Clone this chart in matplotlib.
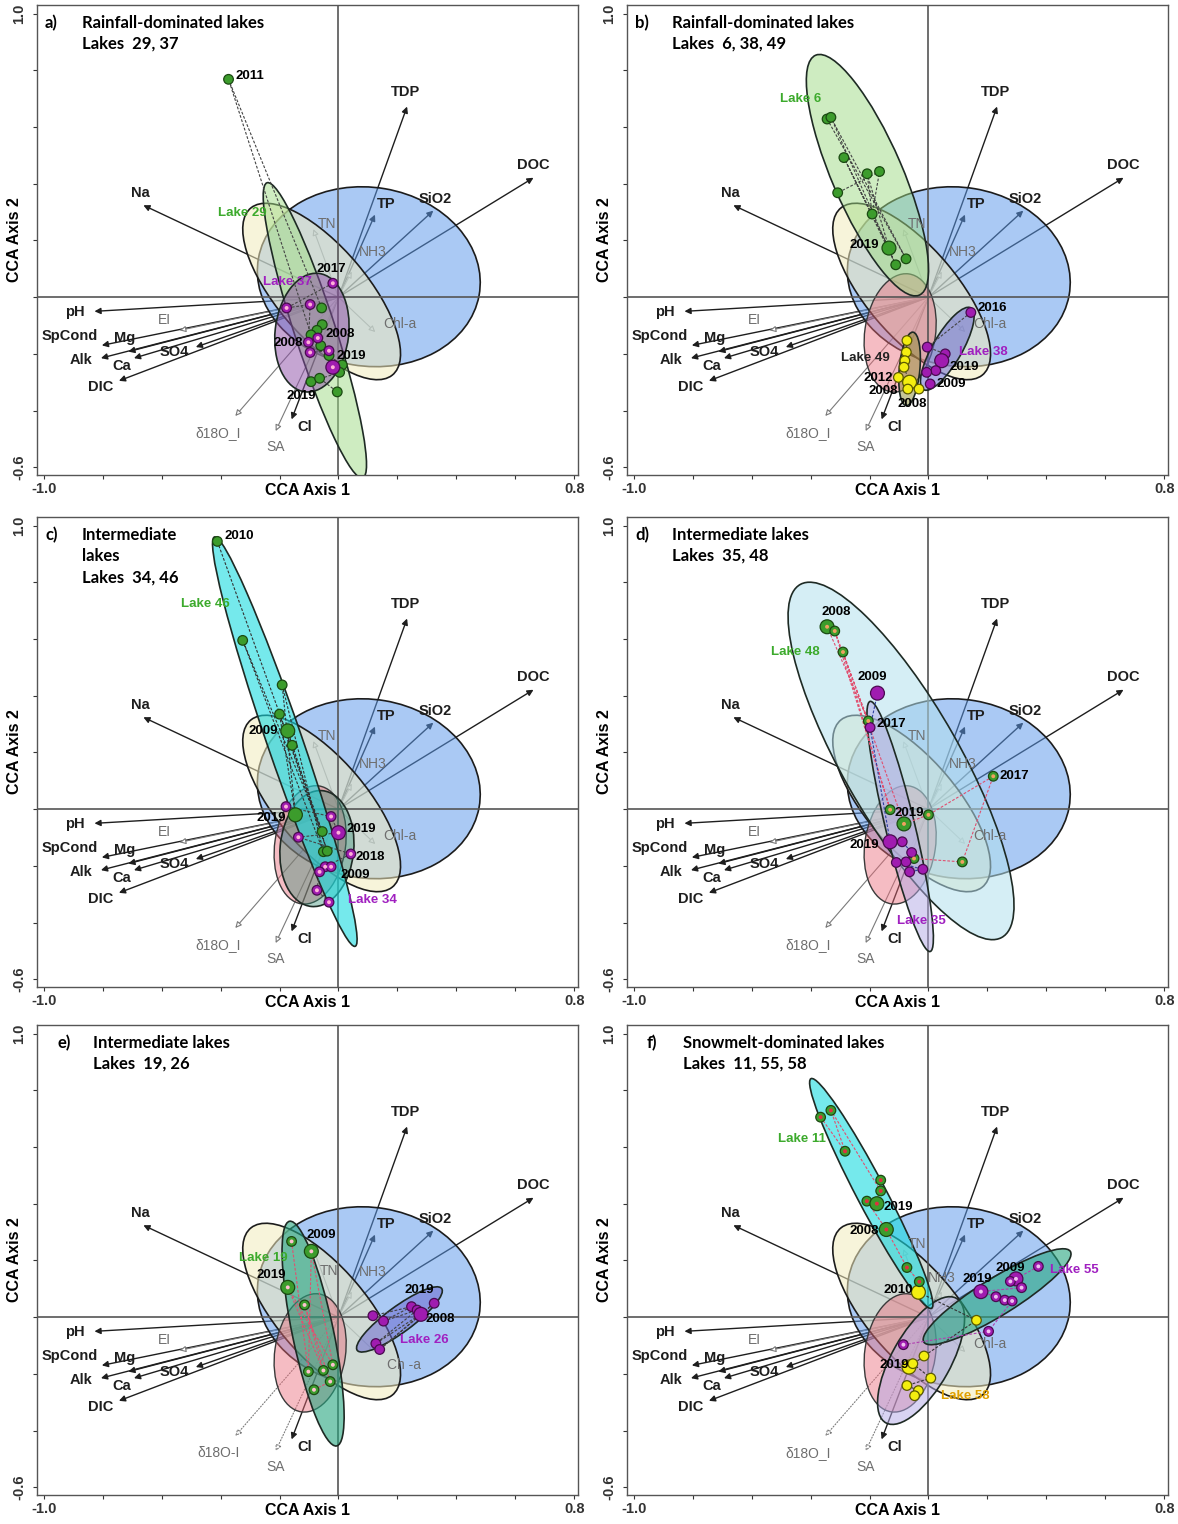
import numpy as np
import matplotlib.pyplot as plt
from matplotlib.patches import Ellipse

plt.rcParams['font.family'] = ['Liberation Sans', 'DejaVu Sans']

# ---- environmental arrows (biplot scores, identical in every panel)
env_names = ['pH', 'SpCond', 'Mg', 'Alk', 'Ca', 'SO4', 'DIC', 'Na', 'TDP', 'TP', 'SiO2', 'DOC', 'Cl']
env_x = [-0.828, -0.803, -0.713, -0.806, -0.694, -0.484, -0.745, -0.662, 0.233, 0.124, 0.322, 0.662, -0.159]
env_y = [-0.050, -0.170, -0.192, -0.215, -0.215, -0.176, -0.295, 0.324, 0.672, 0.291, 0.305, 0.421, -0.431]

sup_names = ['EI', 'δ18O_I', 'SA', 'TN', 'NH3', 'Chl-a']
sup_x = [-0.539, -0.350, -0.213, -0.085, 0.045, 0.125]
sup_y = [-0.117, -0.419, -0.472, 0.240, 0.090, -0.123]

# ---- lake sample scores per panel
# a) lakes 29, 37
lake29_x = [-0.373, -0.057, -0.055, -0.073, -0.093, -0.060, -0.032, 0.013, 0.004, -0.093, -0.064, -0.004]
lake29_y = [0.768, -0.038, -0.097, -0.117, -0.133, -0.171, -0.206, -0.239, -0.265, -0.298, -0.286, -0.334]
lake37_x = [-0.019, -0.176, -0.096, -0.102, -0.096, -0.032, -0.019, -0.070]
lake37_y = [0.049, -0.038, -0.026, -0.159, -0.195, -0.189, -0.247, -0.144]
# b) lakes 6, 38, 49
lake6_x = [-0.344, -0.331, -0.287, -0.208, -0.166, -0.308, -0.191, -0.134, -0.076, -0.111]
lake6_y = [0.628, 0.634, 0.492, 0.435, 0.443, 0.368, 0.293, 0.173, 0.135, 0.114]
lake38_x = [0.144, -0.004, 0.057, 0.045, 0.025, -0.006, 0.006]
lake38_y = [-0.054, -0.176, -0.200, -0.224, -0.259, -0.265, -0.306]
lake49_x = [-0.073, -0.075, -0.080, -0.083, -0.064, -0.102, -0.032, -0.070]
lake49_y = [-0.153, -0.194, -0.224, -0.247, -0.300, -0.283, -0.324, -0.324]
# c) lakes 34, 46
lake46_x = [-0.411, -0.325, -0.191, -0.200, -0.172, -0.157, -0.146, -0.055, -0.051, -0.038]
lake46_y = [0.944, 0.595, 0.438, 0.335, 0.276, 0.225, -0.020, -0.079, -0.150, -0.148]
lake34_x = [-0.178, -0.025, 0.000, -0.136, 0.042, -0.045, -0.025, -0.064, -0.073, -0.032]
lake34_y = [0.009, -0.026, -0.083, -0.099, -0.158, -0.203, -0.203, -0.221, -0.286, -0.328]
# d) lakes 35, 48
lake48_x = [-0.344, -0.318, -0.290, -0.204, -0.130, 0.000, -0.083, 0.115, 0.220, -0.049]
lake48_y = [0.643, 0.628, 0.554, 0.311, -0.002, -0.020, -0.052, -0.186, 0.116, -0.174]
lake35_x = [-0.173, -0.198, -0.130, -0.089, -0.057, -0.076, -0.064, -0.019, -0.109]
lake35_y = [0.409, 0.288, -0.115, -0.115, -0.153, -0.186, -0.221, -0.212, -0.188]
# e) lakes 19, 26
lake19_x = [-0.159, -0.092, -0.172, -0.115, -0.102, -0.019, -0.051, -0.028, -0.083]
lake19_y = [0.267, 0.232, 0.105, 0.043, -0.192, -0.168, -0.188, -0.227, -0.256]
lake26_x = [0.248, 0.267, 0.283, 0.325, 0.280, 0.117, 0.153, 0.127, 0.140]
lake26_y = [0.037, 0.025, 0.013, 0.049, 0.010, 0.005, -0.014, -0.093, -0.114]
# f) lakes 11, 55, 58
lake11_x = [-0.366, -0.331, -0.283, -0.162, -0.162, -0.209, -0.175, -0.143, -0.073, -0.031]
lake11_y = [0.705, 0.729, 0.585, 0.483, 0.445, 0.409, 0.400, 0.309, 0.175, 0.125]
lake55_x = [0.373, 0.297, 0.278, 0.316, 0.178, 0.229, 0.259, 0.284, 0.204, -0.085]
lake55_y = [0.179, 0.135, 0.126, 0.104, 0.090, 0.072, 0.060, 0.057, -0.050, -0.097]
lake58_x = [-0.034, 0.163, -0.015, -0.066, -0.053, 0.008, -0.073, -0.034, -0.047]
lake58_y = [0.088, -0.011, -0.137, -0.176, -0.164, -0.215, -0.241, -0.259, -0.277]

# ---- styling / layout
ARROW_LABEL_OFF = {
    'pH': (-0.066, -0.002), 'SpCond': (-0.110, 0.033), 'Mg': (-0.013, 0.048), 'Alk': (-0.066, -0.005),
    'Ca': (-0.041, -0.026), 'SO4': (-0.072, -0.016), 'DIC': (-0.063, -0.022), 'Na': (-0.009, 0.042),
    'TDP': (-0.004, 0.053), 'TP': (0.038, 0.036), 'SiO2': (0.005, 0.040), 'DOC': (0.0, 0.044),
    'Cl': (0.046, -0.026), 'EI': (-0.053, 0.035), 'δ18O_I': (-0.058, -0.061), 'SA': (0.0, -0.058),
    'TN': (0.047, 0.018), 'NH3': (0.070, 0.069), 'Chl-a': (0.085, 0.030),
}

PT = {'green': ('#3c9c2c', '#1b4a12'), 'purple': ('#a01cb0', '#4a0a50'), 'yellow': ('#f4ee10', '#5c5a00')}
FILL = {
    'lightgreen': (0.62, 0.86, 0.52, 0.5), 'purple': (0.55, 0.30, 0.65, 0.5),
    'cyan': (0.10, 0.86, 0.88, 0.6), 'darkteal': (0.20, 0.55, 0.45, 0.4),
    'paleblue': (0.70, 0.88, 0.93, 0.55), 'lavender': (0.70, 0.66, 0.90, 0.5),
    'teal': (0.15, 0.65, 0.50, 0.6), 'violet': (0.42, 0.42, 0.82, 0.55),
    'olive': (0.55, 0.55, 0.20, 0.5),
}

# lake tuple: x, y, point colour, ellipse (cx, cy, w, h, angle), fill,
#             trajectory order, big points, trajectory colour, inner dot colour
PANELS = [
    dict(tag='a)', title=['Rainfall-dominated lakes', 'Lakes  29, 37'], indent=False, red=False,
         label_off={},
         lakes=[(lake29_x, lake29_y, 'green', (-0.080, -0.117, 1.09, 0.14, -72.7), 'lightgreen',
                 [1, 0, 4, 2, 3, 5, 6, 7, 8, 9, 10, 11], [], '#444444', None),
                (lake37_x, lake37_y, 'purple', (-0.090, -0.125, 0.25, 0.42, -6), 'purple',
                 [0, 1, 2, 3, 4, 5, 6, 7], [6], '#444444', '#ffb0d8')],
         labels=[('2011', -0.299, 0.779, 'k'), ('Lake 29', -0.325, 0.297, '#3caa2c'),
                 ('Lake 37', -0.172, 0.054, '#a020c0'), ('2017', -0.025, 0.099, 'k'),
                 ('2008', 0.006, -0.129, 'k'), ('2008', -0.172, -0.161, 'k'),
                 ('2019', 0.045, -0.206, 'k'), ('2019', -0.127, -0.348, 'k')]),
    dict(tag='b)', title=['Rainfall-dominated lakes', 'Lakes  6, 38, 49'], indent=False, red=True,
         label_off={},
         lakes=[(lake6_x, lake6_y, 'green', (-0.207, 0.430, 0.916, 0.24, -67.5), 'lightgreen',
                 [0, 8, 1, 9, 2, 7, 3, 6, 4, 5], [7], '#444444', None),
                (lake49_x, lake49_y, 'yellow', (-0.064, -0.253, 0.07, 0.26, -5), 'olive',
                 [0, 1, 2, 3, 4, 5, 6, 7], [4], '#444444', None),
                (lake38_x, lake38_y, 'purple', (0.064, -0.182, 0.33, 0.10, 61), 'violet',
                 [0, 1, 2, 3, 4, 5, 6], [3], '#444444', None)],
         labels=[('Lake 6', -0.433, 0.699, '#3caa2c'), ('2019', -0.217, 0.185, 'k'),
                 ('2016', 0.217, -0.038, 'k'), ('Lake 38', 0.185, -0.192, '#a020c0'),
                 ('2019', 0.121, -0.247, 'k'), ('2009', 0.076, -0.306, 'k'),
                 ('Lake 49', -0.213, -0.215, '#222222'), ('2012', -0.172, -0.286, 'k'),
                 ('2008', -0.153, -0.330, 'k'), ('2008', -0.055, -0.378, 'k')]),
    dict(tag='c)', title=['Intermediate', 'lakes', 'Lakes  34, 46'], indent=False, red=True,
         label_off={},
         lakes=[(lake34_x, lake34_y, 'purple', (-0.073, -0.139, 0.25, 0.41, -5), 'darkteal',
                 [0, 1, 2, 3, 4, 5, 6, 7, 8, 9], [2], '#444444', '#ffb0d8'),
                (lake46_x, lake46_y, 'green', (-0.182, 0.238, 1.52, 0.12, -71.7), 'cyan',
                 [0, 7, 1, 8, 2, 6, 3, 9, 4, 5], [4, 6], '#333333', None)],
         labels=[('2010', -0.338, 0.962, 'k'), ('Lake 46', -0.452, 0.725, '#3caa2c'),
                 ('2009', -0.255, 0.276, 'k'), ('2019', -0.229, -0.030, 'k'),
                 ('2019', 0.076, -0.071, 'k'), ('2018', 0.108, -0.170, 'k'),
                 ('2009', 0.057, -0.233, 'k'), ('Lake 34', 0.115, -0.322, '#a020c0')]),
    dict(tag='d)', title=['Intermediate lakes', 'Lakes  35, 48'], indent=False, red=True,
         label_off={},
         lakes=[(lake48_x, lake48_y, 'green', (-0.093, 0.170, 1.42, 0.40, -61.3), 'paleblue',
                 [0, 3, 1, 4, 2, 6, 5, 8, 7, 9], [0, 6], '#e05070', '#f0a060'),
                (lake35_x, lake35_y, 'purple', (-0.096, -0.061, 0.905, 0.10, -77), 'lavender',
                 [0, 1, 2, 3, 4, 5, 6, 7, 8], [0, 2], '#3040a0', None)],
         labels=[('2008', -0.312, 0.696, 'k'), ('Lake 48', -0.452, 0.554, '#3caa2c'),
                 ('2009', -0.191, 0.465, 'k'), ('2017', -0.127, 0.299, 'k'),
                 ('2017', 0.293, 0.116, 'k'), ('2019', -0.064, -0.014, 'k'),
                 ('2019', -0.217, -0.127, 'k'), ('Lake 35', -0.025, -0.395, '#a020c0')]),
    dict(tag='e)', title=['Intermediate lakes', 'Lakes  19, 26'], indent=True, red=True,
         label_off={'TN': (0.053, -0.079), 'Chl-a': (0.098, -0.047)},
         lakes=[(lake19_x, lake19_y, 'green', (-0.086, -0.058, 0.808, 0.14, -78.6), 'teal',
                 [0, 4, 1, 5, 2, 6, 3, 7, 8], [1, 2], '#e05070', '#ffc0d0'),
                (lake26_x, lake26_y, 'purple', (0.207, -0.008, 0.36, 0.09, 37.4), 'violet',
                 [5, 0, 6, 1, 7, 2, 8, 3, 4], [4], '#444444', None)],
         labels=[('2009', -0.057, 0.289, 'k'), ('Lake 19', -0.254, 0.208, '#3caa2c'),
                 ('2019', -0.229, 0.147, 'k'), ('2019', 0.274, 0.096, 'k'),
                 ('2008', 0.344, -0.005, 'k'), ('Lake 26', 0.293, -0.082, '#a020c0')]),
    dict(tag='f)', title=['Snowmelt-dominated lakes', 'Lakes  11, 55, 58'], indent=True, red=True,
         label_off={'NH3': (0.0, 0.047)},
         lakes=[(lake58_x, lake58_y, 'yellow', (-0.025, -0.153, 0.50, 0.20, 61.7), 'lavender',
                 [0, 1, 2, 3, 4, 5, 6, 7, 8], [0, 3], '#333333', None),
                (lake55_x, lake55_y, 'purple', (0.233, 0.072, 0.591, 0.13, 32.8), 'teal',
                 [0, 1, 2, 3, 4, 5, 6, 7, 8, 9], [1, 4], '#b040b0', '#f0c0f0'),
                (lake11_x, lake11_y, 'green', (-0.194, 0.436, 0.907, 0.10, -63.2), 'cyan',
                 [0, 2, 1, 4, 3, 6, 5, 7, 8, 9], [6, 7], '#e05070', '#e03040')],
         labels=[('Lake 11', -0.429, 0.628, '#3caa2c'), ('2019', -0.102, 0.388, 'k'),
                 ('2008', -0.219, 0.303, 'k'), ('2010', -0.102, 0.096, 'k'),
                 ('2009', 0.278, 0.175, 'k'), ('2019', 0.166, 0.135, 'k'),
                 ('Lake 55', 0.494, 0.167, '#a020c0'), ('2019', -0.115, -0.170, 'k'),
                 ('Lake 58', 0.125, -0.277, '#e0a000')]),
]

BLUE_ELL = (0.103, 0.072, 0.76, 0.63, -10)
CREAM_ELL = (-0.057, 0.020, 0.76, 0.31, -51)
RED_ELL = (-0.096, -0.126, 0.24, 0.42, -8)

XLIM = (-1.023, 0.813)
YLIM = (-0.627, 1.03)
W, H = 1178, 1524
BOXES = [(37, 5), (627, 5), (37, 517), (627, 517), (37, 1025), (627, 1025)]
BW, BH = 541, 470


def ellipse(ax, p, fc, ec, lw, z):
    cx, cy, w, h, a = p
    ax.add_patch(Ellipse((cx, cy), w, h, angle=a, fc=fc, ec=ec, lw=lw, zorder=z))


def draw_panel(ax, panel, idx):
    ax.set_xlim(*XLIM)
    ax.set_ylim(*YLIM)
    offs = dict(ARROW_LABEL_OFF)
    offs.update(panel['label_off'])

    # arrows first, the group ellipses tint them
    for name, x, y in zip(env_names, env_x, env_y):
        ax.annotate('', xy=(x, y), xytext=(0, 0), zorder=0.8,
                    arrowprops=dict(arrowstyle='-|>', color='#1e1e1e', lw=1.0,
                                    mutation_scale=9, shrinkA=0, shrinkB=0))
        dx, dy = offs[name]
        ax.text(x + dx, y + dy, name, fontsize=10.5, fontweight='bold', color='#1e1e1e',
                ha='center', va='center', zorder=8)

    dotted = idx >= 4
    for name, x, y in zip(sup_names, sup_x, sup_y):
        ls = ':' if (dotted and name in ('δ18O_I', 'SA')) else '-'
        ax.annotate('', xy=(x, y), xytext=(0, 0), zorder=0.8,
                    arrowprops=dict(arrowstyle='-|>', fc='white', ec='#7a7a7a', lw=0.8, ls=ls,
                                    mutation_scale=9, shrinkA=0, shrinkB=0))
        dx, dy = offs[name]
        label = name
        if idx == 4 and name == 'δ18O_I':
            label = 'δ18O-I'
        if idx == 4 and name == 'Chl-a':
            label = 'Ch -a'
        ax.text(x + dx, y + dy, label, fontsize=10, color='#6e6e6e',
                ha='center', va='center', zorder=8)

    ellipse(ax, BLUE_ELL, (0.36, 0.60, 0.92, 0.52), '#1c1c1c', 1.2, 1)
    ellipse(ax, CREAM_ELL, (0.95, 0.92, 0.74, 0.55), '#1c1c1c', 1.2, 2)
    if panel['red']:
        ellipse(ax, RED_ELL, (0.92, 0.42, 0.48, 0.45), '#3a3a3a', 1.0, 3)

    ax.axhline(0, color='#555555', lw=1.2, zorder=3.5)
    ax.axvline(0, color='#555555', lw=1.2, zorder=3.5)

    for xs, ys, col, ell, fill, order, big, lc, inner in panel['lakes']:
        ellipse(ax, ell, FILL[fill], '#1e2a24', 1.2, 5)
    for xs, ys, col, ell, fill, order, big, lc, inner in panel['lakes']:
        ox = [xs[i] for i in order]
        oy = [ys[i] for i in order]
        ax.plot(ox, oy, ls=(0, (2.5, 1.5)), color=lc, lw=0.8, zorder=6)
        fc, ec = PT[col]
        sizes = [100 if i in big else 48 for i in range(len(xs))]
        ax.scatter(xs, ys, s=sizes, c=fc, edgecolors=ec, linewidths=0.9, zorder=7)
        if inner:
            ax.scatter(xs, ys, s=8, c=inner, edgecolors='none', zorder=7.5)

    for txt, x, y, c in panel['labels']:
        ax.text(x, y, txt, fontsize=9.5, fontweight='bold', color=c,
                ha='center', va='center', zorder=9)

    # panel title
    x_tag, x_txt = (0.037, 0.103) if panel['indent'] else (0.015, 0.083)
    ax.text(x_tag, 0.962, panel['tag'], transform=ax.transAxes, fontsize=12,
            fontweight='bold', family='Lato', va='center', zorder=10)
    for k, line in enumerate(panel['title']):
        ax.text(x_txt, 0.962 - 0.045 * k, line, transform=ax.transAxes, fontsize=12,
                fontweight='bold', family='Lato', va='center', zorder=10)

    # axes frame and ticks
    xt = np.round(np.arange(-1.0, 0.81, 0.2), 1)
    yt = np.round(np.arange(-0.6, 1.01, 0.2), 1)
    ax.set_xticks(xt)
    ax.set_xticklabels(['-1.0'] + [''] * (len(xt) - 2) + ['0.8'], fontweight='bold', fontsize=10.5)
    ax.set_yticks(yt)
    ax.set_yticklabels(['-0.6'] + [''] * (len(yt) - 2) + ['1.0'], fontweight='bold', fontsize=10.5,
                       rotation=90, va='center')
    ax.tick_params(axis='x', direction='out', length=3, width=0.8, pad=2, colors='#333333')
    ax.tick_params(axis='y', direction='out', length=3, width=0.8, pad=5, colors='#333333')
    for s in ax.spines.values():
        s.set_color('#555555')
        s.set_linewidth(1.0)
    ax.set_xlabel('CCA Axis 1', fontsize=11.5, fontweight='bold')
    ax.set_ylabel('CCA Axis 2', fontsize=11.5, fontweight='bold')
    ax.xaxis.set_label_coords(0.5, -0.016)
    ax.yaxis.set_label_coords(-0.028, 0.5)


fig = plt.figure(figsize=(W / 100, H / 100), dpi=100)
for i, panel in enumerate(PANELS):
    left, top = BOXES[i]
    ax = fig.add_axes([left / W, 1 - (top + BH) / H, BW / W, BH / H])
    draw_panel(ax, panel, i)

fig.savefig('out.png', dpi=100, facecolor='white')
